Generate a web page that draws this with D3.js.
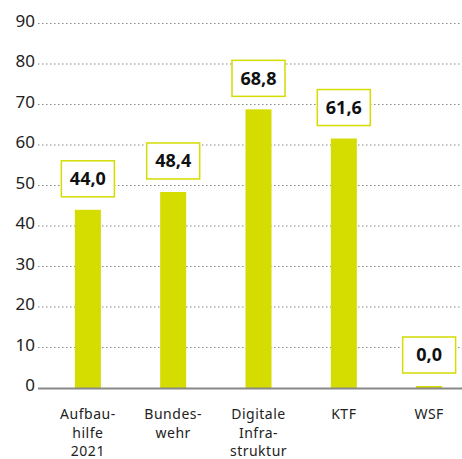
<!DOCTYPE html>
<html>
<head>
<meta charset="utf-8">
<title>Sondervermögen</title>
<script src="https://cdn.jsdelivr.net/npm/d3@7/dist/d3.min.js"></script>
<style type="text/css">
	body { margin: 0; background: #fff; }
	.grid line { stroke: #888; stroke-width: 1.2px; stroke-dasharray: 1.5,2.5; }
	.tick-label { font-family: "Noto Sans", sans-serif; font-size: 17px; fill: #222; }
	.cat { font-family: "Noto Sans", sans-serif; font-size: 14px; letter-spacing: 0.5px; fill: #222; }
	.val { font-family: "Noto Sans", sans-serif; font-size: 18px; font-weight: bold; fill: #111; }
</style>
</head>
<body>
<script type="text/javascript">

var categories = ["Aufbauhilfe 2021", "Bundeswehr", "Digitale Infrastruktur", "KTF", "WSF"];
var catLines = [["Aufbau-", "hilfe", "2021"], ["Bundes-", "wehr"], ["Digitale", "Infra-", "struktur"], ["KTF"], ["WSF"]];
var values = [44.0, 48.4, 68.8, 61.6, 0.0];
var yTicks = [0, 10, 20, 30, 40, 50, 60, 70, 80, 90];

var width = 462, height = 459;
var barColor = "#d4dc00";

var svg = d3.select("body").append("svg")
	.attr("width", width).attr("height", height);

var x = d3.scaleBand()
	.domain(categories)
	.range([45, 472])
	.paddingInner(0.695)
	.paddingOuter(0.35);

var y = d3.scaleLinear().domain([0, 90]).range([388, 23.5]);

// gridlines
svg.append("g").attr("class", "grid")
	.selectAll("line")
	.data(yTicks.filter(function(d) { return d > 0; }))
	.enter().append("line")
	.attr("x1", 38).attr("x2", width)
	.attr("y1", function(d) { return y(d); })
	.attr("y2", function(d) { return y(d); });

svg.selectAll(".tick-label")
	.data(yTicks).enter()
	.append("text")
	.attr("class", "tick-label")
	.attr("x", 35)
	.attr("y", function(d) { return y(d) + 3; })
	.attr("text-anchor", "end")
	.text(function(d) { return d; });

// bars
svg.selectAll("rect.bar")
	.data(values).enter()
	.append("rect")
	.attr("class", "bar")
	.attr("x", function(d, i) { return x(categories[i]); })
	.attr("width", x.bandwidth())
	.attr("y", function(d) { return Math.min(y(d), y(0) - 2); })
	.attr("height", function(d) { return Math.max(y(0) - y(d), 2); })
	.attr("fill", barColor);

// baseline
svg.append("line")
	.attr("x1", 38).attr("x2", width)
	.attr("y1", y(0) + 0.5).attr("y2", y(0) + 0.5)
	.attr("stroke", "#888").attr("stroke-width", 2);

// value boxes
var bw = 53, bh = 36, gap = 13;
var lbl = svg.selectAll("g.lbl")
	.data(values).enter()
	.append("g").attr("class", "lbl")
	.attr("transform", function(d, i) {
		var cx = x(categories[i]) + x.bandwidth() / 2;
		var top = Math.min(y(d), y(0) - 2);
		return "translate(" + cx + "," + (top - gap - bh / 2) + ")";
	});
lbl.append("rect")
	.attr("x", -bw / 2).attr("y", -bh / 2)
	.attr("width", bw).attr("height", bh)
	.attr("fill", "#fff")
	.attr("stroke", barColor).attr("stroke-width", 1.5);
lbl.append("text")
	.attr("class", "val")
	.attr("text-anchor", "middle")
	.attr("dy", "0.36em")
	.text(function(d) { return d3.format(".1f")(d).replace(".", ","); });

// category labels, one text per line
var cat = svg.selectAll("g.cat")
	.data(categories).enter()
	.append("g").attr("class", "cat")
	.attr("transform", function(d) { return "translate(" + (x(d) + x.bandwidth() / 2) + ",0)"; });
cat.selectAll("text")
	.data(function(d, i) { return catLines[i]; })
	.enter().append("text")
	.attr("text-anchor", "middle")
	.attr("y", function(d, j) { return 419 + j * 18.5; })
	.text(function(d) { return d; });

</script>
</body>
</html>
